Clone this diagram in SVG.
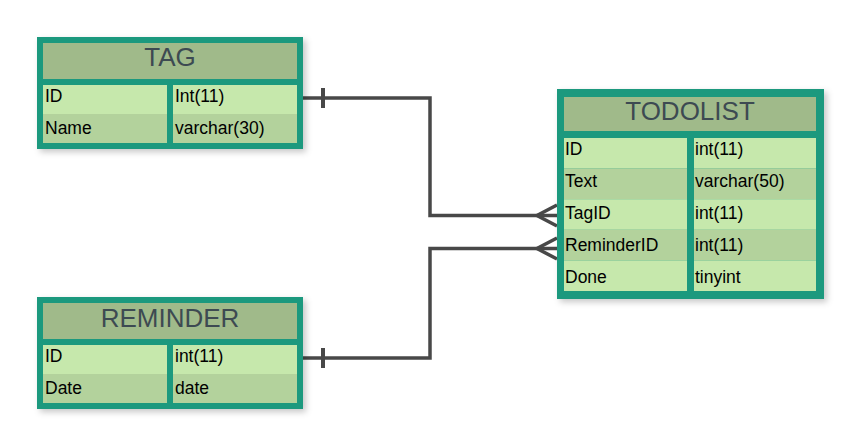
<svg xmlns="http://www.w3.org/2000/svg" width="860" height="446" viewBox="0 0 860 446">
  <defs>
    <filter id="shadow" x="-10%" y="-10%" width="125%" height="130%">
      <feDropShadow dx="3" dy="3" stdDeviation="3" flood-color="#000" flood-opacity="0.22"/>
    </filter>
    <marker id="one" markerUnits="userSpaceOnUse" markerWidth="24" markerHeight="24" refX="0" refY="12" orient="auto" overflow="visible">
      <path d="M20,2 V22" stroke="#484848" stroke-width="4" fill="none"/>
    </marker>
    <marker id="many" markerUnits="userSpaceOnUse" markerWidth="24" markerHeight="24" refX="22" refY="12" orient="auto" overflow="visible">
      <path d="M22,1.5 L2,12 L22,22.5" stroke="#484848" stroke-width="3.5" fill="none"/>
    </marker>
    <style>
      .frame { fill: #1b997e; }
      .head { fill: #a0ba8a; }
      .light { fill: #c6e8ac; }
      .dark { fill: #b3d29c; }
      .title { font-family: "Liberation Sans", Arial, sans-serif; font-size: 26px; fill: #3d4a52; text-anchor: middle; }
      .cell { font-family: "Liberation Sans", Arial, sans-serif; font-size: 17.5px; fill: #000; }
      .edge { fill: none; stroke: #484848; stroke-width: 3.5; }
    </style>
  </defs>
  <rect width="860" height="446" fill="#ffffff"/>

  <g id="connectors">
    <path class="edge" d="M303,98 H430 V215.5 H557" marker-start="url(#one)" marker-end="url(#many)"/>
    <path class="edge" d="M303,358 H430 V248.5 H557" marker-start="url(#one)" marker-end="url(#many)"/>
  </g>

  <g id="tag">
    <rect class="frame" x="37" y="37" width="266" height="112" filter="url(#shadow)"/>
    <rect class="head" x="43" y="43" width="254" height="36"/>
    <text class="title" x="170" y="66" font-size="25">TAG</text>
    <rect class="light" x="43" y="85" width="124" height="29"/>
    <rect class="dark" x="43" y="114" width="124" height="29"/>
    <rect class="light" x="173" y="85" width="124" height="29"/>
    <rect class="dark" x="173" y="114" width="124" height="29"/>
    <text class="cell" x="45" y="102">ID</text>
    <text class="cell" x="45" y="133.5">Name</text>
    <text class="cell" x="175" y="102">Int(11)</text>
    <text class="cell" x="175" y="133.5">varchar(30)</text>
  </g>

  <g id="reminder">
    <rect class="frame" x="37" y="297" width="266" height="112" filter="url(#shadow)"/>
    <rect class="head" x="43" y="303" width="254" height="36"/>
    <text class="title" x="170" y="327">REMINDER</text>
    <rect class="light" x="43" y="345" width="124" height="29"/>
    <rect class="dark" x="43" y="374" width="124" height="29"/>
    <rect class="light" x="173" y="345" width="124" height="29"/>
    <rect class="dark" x="173" y="374" width="124" height="29"/>
    <text class="cell" x="45" y="362">ID</text>
    <text class="cell" x="45" y="393.5">Date</text>
    <text class="cell" x="175" y="362">int(11)</text>
    <text class="cell" x="175" y="393.5">date</text>
  </g>

  <g id="todolist">
    <rect class="frame" x="557" y="89" width="267" height="210" filter="url(#shadow)"/>
    <rect class="head" x="564" y="97" width="252" height="34"/>
    <text class="title" x="690" y="120">TODOLIST</text>
    <rect class="light" x="564" y="138" width="123" height="30.6"/>
    <rect class="dark" x="564" y="168.6" width="123" height="30.6"/>
    <rect class="light" x="564" y="199.2" width="123" height="30.6"/>
    <rect class="dark" x="564" y="229.8" width="123" height="30.6"/>
    <rect class="light" x="564" y="260.4" width="123" height="30.6"/>
    <rect class="light" x="694" y="138" width="122" height="30.6"/>
    <rect class="dark" x="694" y="168.6" width="122" height="30.6"/>
    <rect class="light" x="694" y="199.2" width="122" height="30.6"/>
    <rect class="dark" x="694" y="229.8" width="122" height="30.6"/>
    <rect class="light" x="694" y="260.4" width="122" height="30.6"/>
    <text class="cell" x="565" y="155">ID</text>
    <text class="cell" x="565" y="187">Text</text>
    <text class="cell" x="565" y="219">TagID</text>
    <text class="cell" x="565" y="251">ReminderID</text>
    <text class="cell" x="565" y="283">Done</text>
    <text class="cell" x="695" y="155">int(11)</text>
    <text class="cell" x="695" y="187">varchar(50)</text>
    <text class="cell" x="695" y="219">int(11)</text>
    <text class="cell" x="695" y="251">int(11)</text>
    <text class="cell" x="695" y="283">tinyint</text>
  </g>
</svg>
